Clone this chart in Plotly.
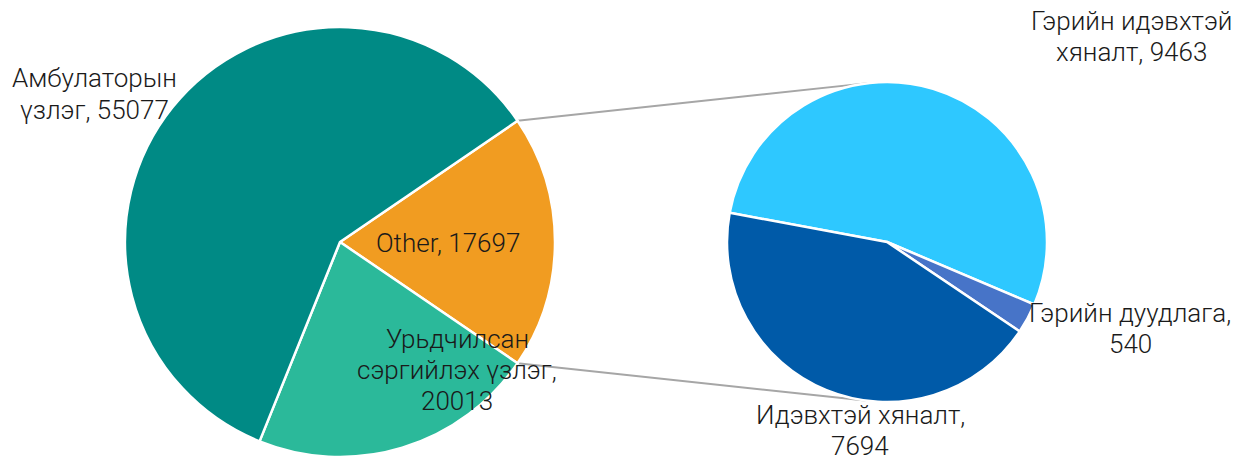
import math
import plotly.graph_objects as go

# ---- data ----
main_labels = ["Other", "Урьдчилсан сэргийлэх үзлэг", "Амбулаторын үзлэг"]
main_values = [17697, 20013, 55077]
main_text = ["Other, 17697", "Урьдчилсан<br>сэргийлэх үзлэг,<br>20013", "Амбулаторын<br>үзлэг, 55077"]
main_colors = ["#F19C21", "#2BB99A", "#008A85"]

sub_labels = ["Гэрийн идэвхтэй хяналт", "Гэрийн дуудлага", "Идэвхтэй хяналт"]
sub_values = [9463, 540, 7694]
sub_text = ["Гэрийн идэвхтэй<br>хяналт, 9463", "Гэрийн дуудлага,<br>540", "Идэвхтэй хяналт,<br>7694"]
sub_colors = ["#2EC8FF", "#4774C8", "#005AA8"]

W, H = 1249, 461
FONT = "Roboto"
FSIZE = 26
LINE_GAP = 31

# geometry (pixels)
main_c, main_r = (340, 242), 215
sub_c, sub_r = (887, 242), 160

def dom(c, r):
    return dict(x=[(c[0] - r) / W, (c[0] + r) / W],
                y=[(H - c[1] - r) / H, (H - c[1] + r) / H])

other_deg = main_values[0] / sum(main_values) * 360
main_rot = 90 - other_deg / 2

fig = go.Figure()
fig.add_trace(go.Pie(
    labels=main_labels, values=main_values, sort=False, direction="clockwise",
    rotation=main_rot, textinfo="none", domain=dom(main_c, main_r),
    marker=dict(colors=main_colors, line=dict(color="white", width=2.5)),
    showlegend=False))
fig.add_trace(go.Pie(
    labels=sub_labels, values=sub_values, sort=False, direction="clockwise",
    rotation=-79.5, textinfo="none", domain=dom(sub_c, sub_r),
    marker=dict(colors=sub_colors, line=dict(color="white", width=2.5)),
    showlegend=False))

# connector lines computed from the "Other" slice edges to the secondary pie
def pt(c, r, deg):
    a = math.radians(deg)
    return (c[0] + r * math.cos(a), c[1] - r * math.sin(a))

half = other_deg / 2
pairs = [(pt(main_c, main_r, half), pt(sub_c, sub_r, 96)),
         (pt(main_c, main_r, -half), pt(sub_c, sub_r, -97))]
for p0, p1 in pairs:
    fig.add_shape(type="line", xref="paper", yref="paper",
                  x0=p0[0] / W, y0=1 - p0[1] / H, x1=p1[0] / W, y1=1 - p1[1] / H,
                  line=dict(color="#A6A6A6", width=2), layer="below")

label_pos = {
    main_text[0]: (448, 243),
    main_text[1]: (457, 370),
    main_text[2]: (94, 94),
    sub_text[0]: (1131, 37),
    sub_text[1]: (1130, 328),
    sub_text[2]: (860, 430),
}
for txt, (x, y) in label_pos.items():
    lines = txt.split("<br>")
    n = len(lines)
    for i, ln in enumerate(lines):
        yy = y + (i - (n - 1) / 2) * LINE_GAP
        fig.add_annotation(text=ln, x=x / W, y=1 - yy / H, xref="paper", yref="paper",
                           xanchor="center", yanchor="middle", showarrow=False,
                           font=dict(family=FONT, size=FSIZE, color="#1a1a1a", weight=300))

fig.update_layout(width=W, height=H, margin=dict(l=0, r=0, t=0, b=0),
                  paper_bgcolor="white", plot_bgcolor="white",
                  font=dict(family=FONT))
fig.write_html("out.html", config={"displayModeBar": False},
               post_script="document.body.style.margin='0';document.body.style.padding='0';")
